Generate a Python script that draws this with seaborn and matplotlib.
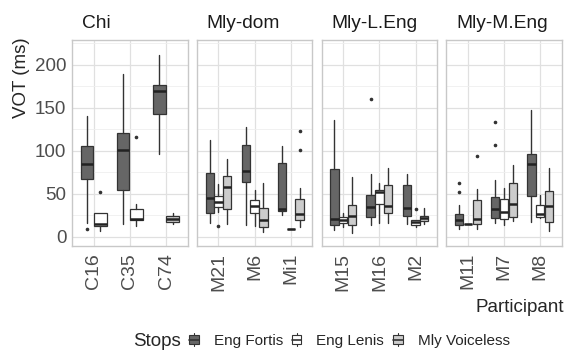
import matplotlib
matplotlib.use("Agg")
import matplotlib.pyplot as plt
from matplotlib.patches import Rectangle
from matplotlib.lines import Line2D
from matplotlib.legend_handler import HandlerBase
import seaborn as sns

# ------------------ data ------------------
panels = ["Chi", "Mly-dom", "Mly-L.Eng", "Mly-M.Eng"]
panel_participants = [["C16", "C35", "C74"],
                      ["M21", "M6", "Mi1"],
                      ["M15", "M16", "M2"],
                      ["M11", "M7", "M8"]]
stops = ["Eng Fortis", "Eng Lenis", "Mly Voiceless"]

box_participant = ["C16", "C16", "C35", "C35", "C74", "C74",
                   "M21", "M21", "M21", "M6", "M6", "M6", "Mi1", "Mi1", "Mi1",
                   "M15", "M15", "M15", "M16", "M16", "M16", "M2", "M2", "M2",
                   "M11", "M11", "M11", "M7", "M7", "M7", "M8", "M8", "M8"]
box_stop = ["Eng Fortis", "Eng Lenis", "Eng Fortis", "Eng Lenis", "Eng Fortis", "Mly Voiceless"] + \
           ["Eng Fortis", "Eng Lenis", "Mly Voiceless"] * 9
whisker_low = [15.5, 7, 14.3, 12.4, 96, 14.3,
               16.3, 28.3, 14.7, 14, 12.8, 5, 25.2, 8.5, 10.9,
               7.8, 11.6, 3.9, 13.2, 15.5, 16.3, 15.1, 10.9, 14.7,
               8.9, 14.3, 8.5, 16.3, 13.6, 18.6, 17.4, 22.1, 6.6]
q1 = [67.4, 12.8, 54.3, 19.4, 143, 16.7,
      27.9, 34.1, 32.6, 63.6, 27, 11.6, 29.5, 8.5, 19,
      14, 16.3, 13.2, 23.3, 38, 27.1, 24, 13.6, 18.2,
      13.6, 14.3, 14.3, 21.3, 20.5, 22.5, 46.9, 23.3, 17.4]
median = [84.5, 14.7, 100.4, 20.5, 169.4, 20.5,
          44.6, 40.7, 57.8, 76.4, 36, 19, 32, 8.5, 26.7,
          20.5, 19.4, 23.6, 34.9, 52, 35.7, 33.7, 17.1, 22.1,
          19.8, 14.3, 20.5, 31.8, 28.7, 38, 84.5, 26, 35.3]
q3 = [106, 27.5, 120, 32.6, 176, 24,
      73.6, 47.3, 70.2, 106.6, 42.2, 32.9, 85.3, 8.5, 44.2,
      78.3, 23.3, 36.4, 48, 53.9, 60, 59.7, 19.4, 24.4,
      26, 14.3, 42.6, 46.5, 44.2, 62, 96.1, 36.4, 52.7]
whisker_high = [140, 28, 189, 38, 211, 27,
                112.4, 61.2, 90, 127, 53.9, 62.4, 105.8, 8.5, 56.6,
                135.7, 27.5, 69, 72.5, 62, 79.5, 72.5, 19.4, 33,
                37.2, 14.3, 55, 65.9, 56.6, 83, 147.3, 48, 79.5]

out_participant = ["C16", "C16", "C35", "M21", "Mi1", "Mi1", "M16", "M2",
                   "M11", "M11", "M11", "M7", "M7"]
out_stop = ["Eng Fortis", "Eng Lenis", "Eng Lenis", "Eng Lenis", "Mly Voiceless", "Mly Voiceless",
            "Eng Fortis", "Eng Lenis", "Eng Fortis", "Eng Fortis", "Mly Voiceless",
            "Eng Fortis", "Eng Fortis"]
out_value = [8.5, 51.5, 115.5, 12, 122.5, 101, 160.5, 32.6, 62, 52.3, 93.4, 133.3, 106.2]

# ------------------ style ------------------
sns.set_theme(style="whitegrid")
plt.rcParams["font.family"] = ["Liberation Sans", "DejaVu Sans"]
fills = dict(zip(stops, ["#666666", "#ffffff", "#cccccc"]))
edge = "#333333"

W, H = 567, 351
fig = plt.figure(figsize=(W / 100, H / 100), dpi=100)

panel_w, gap, left_px = 115.75, 9, 72
top_px, bot_px = 40, 246
total = 0.73

for p, name in enumerate(panels):
    x0 = left_px + p * (panel_w + gap)
    ax = fig.add_axes([x0 / W, 1 - bot_px / H, panel_w / W, (bot_px - top_px) / H])
    parts = panel_participants[p]
    stats, pos, widths, colors = [], [], [], []
    for i, part in enumerate(parts):
        idx = [j for j, bp in enumerate(box_participant) if bp == part]
        n = len(idx)
        for k, j in enumerate(idx):
            fl = [v for pp, ss, v in zip(out_participant, out_stop, out_value)
                  if pp == part and ss == box_stop[j]]
            stats.append(dict(whislo=whisker_low[j], q1=q1[j], med=median[j],
                              q3=q3[j], whishi=whisker_high[j], fliers=fl))
            pos.append(i + 1 - total / 2 + (k + 0.5) * total / n)
            widths.append(total / n * 0.94)
            colors.append(fills[box_stop[j]])
    bp = ax.bxp(stats, positions=pos, widths=widths, patch_artist=True,
                showcaps=False, manage_ticks=False,
                boxprops=dict(edgecolor=edge, linewidth=0.9),
                whiskerprops=dict(color=edge, linewidth=1.0),
                medianprops=dict(color="#222222", linewidth=1.8),
                flierprops=dict(marker="o", markersize=1.6, markerfacecolor=edge,
                                markeredgecolor=edge))
    for box, c in zip(bp["boxes"], colors):
        box.set_facecolor(c)
        box.set_zorder(2)

    ax.set_xlim(0.4, 3.6)
    ax.set_ylim(-10.8, 228.7)
    ax.set_xticks([1, 2, 3])
    ax.set_xticklabels(parts, rotation=90, fontsize=14, color="#4d4d4d")
    ax.set_yticks([0, 50, 100, 150, 200])
    ax.set_yticks([25, 75, 125, 175, 225], minor=True)
    ax.grid(True, which="major", color="#e0e0e0", linewidth=0.9)
    ax.grid(True, which="minor", axis="y", color="#efefef", linewidth=0.6)
    ax.set_axisbelow(True)
    ax.tick_params(axis="both", length=0)
    ax.tick_params(axis="x", pad=5)
    ax.tick_params(axis="y", labelsize=13.5, labelcolor="#4d4d4d", pad=4)
    if p > 0:
        ax.set_yticklabels([])
    for s in ax.spines.values():
        s.set_color("#c8c8c8")
        s.set_linewidth(1.0)
    ax.set_facecolor("white")
    ax.text(0.085, 1.04, name, transform=ax.transAxes, ha="left", va="bottom",
            fontsize=13.8, color="#1a1a1a")

fig.text(22 / W, 1 - 78 / H, "VOT (ms)", rotation=90, ha="center", va="center", fontsize=13.5)
fig.text(564 / W, 1 - 307 / H, "Participant", ha="right", va="center", fontsize=13.5)


# ------------------ legend ------------------
class BoxKey(HandlerBase):
    def create_artists(self, legend, orig, xd, yd, w, h, fontsize, trans):
        cx = xd + w / 2
        bw = 7
        whisk = Line2D([cx, cx], [yd - 1, yd + h + 1], color=edge, lw=0.8, transform=trans)
        box = Rectangle((cx - bw / 2, yd + h * 0.1), bw, h * 0.8, facecolor=orig.get_facecolor(),
                        edgecolor=edge, lw=0.8, transform=trans)
        med = Line2D([cx - bw / 2, cx + bw / 2], [yd + h / 2] * 2, color=edge, lw=1.2, transform=trans)
        return [whisk, box, med]


handles = [Rectangle((0, 0), 1, 1, facecolor=fills[s]) for s in stops]
fig.text(133 / W, 1 - 342 / H, "Stops", ha="left", va="center", fontsize=13.5)
fig.legend(handles, stops, loc="center left", bbox_to_anchor=(186 / W, 1 - 341 / H),
           ncol=3, frameon=False, fontsize=11, handlelength=1.0, handletextpad=0.8,
           columnspacing=0.4, borderpad=0, borderaxespad=0,
           handler_map={Rectangle: BoxKey()})

fig.savefig("out.png", dpi=100, facecolor="white")
